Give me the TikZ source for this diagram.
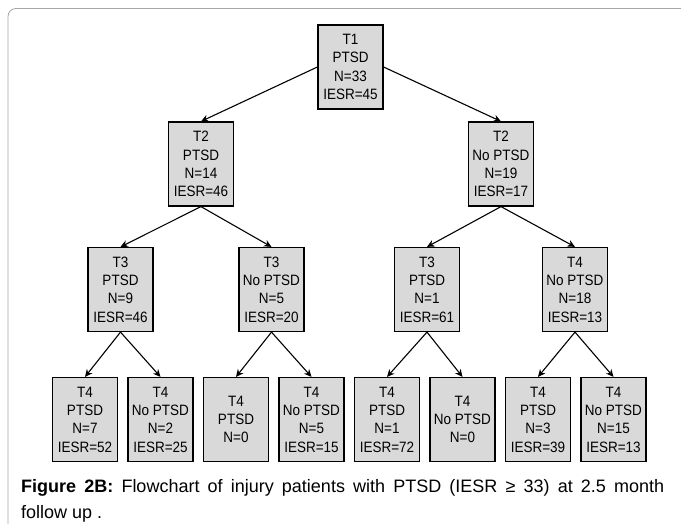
\documentclass[tikz,border=0pt]{standalone}
\usepackage{fontspec}
\setmainfont{Liberation Sans}
\newfontfamily\boxfont[FakeStretch=0.9]{Liberation Sans}
\usetikzlibrary{arrows.meta, positioning}

\begin{document}
\begin{tikzpicture}[x=1pt, y=-1pt]
    \tikzset{
        box/.style = {rectangle, draw=black, fill=black!15, line width=1.2pt, minimum width=65pt, minimum height=84pt, inner sep=0pt, align=center, font=\boxfont\fontsize{15}{18.3}\selectfont},
        line/.style = {draw=black, line width=1.1pt, -{Stealth[length=7.5pt, width=7pt]}},
        frame/.style = {draw=black!35, line width=0.8pt, rounded corners=8pt},
    }
    \useasboundingbox (0,0) rectangle (681,524);
    \path[frame] (681,8.5) -- (8,8.5) -- (8,524);

    \node[box](t1) at (350.5,67){T1\\PTSD\\N=33\\IESR=45};

    \node[box](t2a) at (201,164){T2\\PTSD\\N=14\\IESR=46};
    \node[box](t2b) at (501,164){T2\\No PTSD\\N=19\\IESR=17};

    \node[box](t3a) at (120.5,289.5){T3\\PTSD\\N=9\\IESR=46};
    \node[box](t3b) at (271.5,289.5){T3\\No PTSD\\N=5\\IESR=20};
    \node[box](t3c) at (427,289.5){T3\\PTSD\\N=1\\IESR=61};
    \node[box](t3d) at (575,289.5){T4\\No PTSD\\N=18\\IESR=13};

    \node[box](t4a) at (85,419.5){T4\\PTSD\\N=7\\IESR=52};
    \node[box](t4b)[right = 9.3pt of t4a]{T4\\No PTSD\\N=2\\IESR=25};
    \node[box](t4c)[right = 9.3pt of t4b]{T4\\PTSD\\N=0};
    \node[box](t4d)[right = 9.3pt of t4c]{T4\\No PTSD\\N=5\\IESR=15};
    \node[box](t4e)[right = 9.3pt of t4d]{T4\\PTSD\\N=1\\IESR=72};
    \node[box](t4f)[right = 9.3pt of t4e]{T4\\No PTSD\\N=0};
    \node[box](t4g)[right = 9.3pt of t4f]{T4\\PTSD\\N=3\\IESR=39};
    \node[box](t4h)[right = 9.3pt of t4g]{T4\\No PTSD\\N=15\\IESR=13};

    \node[anchor=north west, inner sep=0pt, text width=643pt, align=justify, font=\fontsize{18}{26}\selectfont](caption) at (21,479){\textbf{Figure 2B:} Flowchart of injury patients with PTSD (IESR ≥ 33) at 2.5 month\linebreak follow up .};

    \path [line] (t1.west) -- (t2a.north);
    \path [line] (t1.east) -- (t2b.north);

    \path [line] (t2a.south) -- (t3a.north);
    \path [line] (t2a.south) -- (t3b.north);
    \path [line] (t2b.south) -- (t3c.north);
    \path [line] (t2b.south) -- (t3d.north);

    \path [line] (t3a.south) -- (t4a.north);
    \path [line] (t3a.south) -- (t4b.north);
    \path [line] (t3b.south) -- (t4c.north);
    \path [line] (t3b.south) -- (t4d.north);
    \path [line] (t3c.south) -- (t4e.north);
    \path [line] (t3c.south) -- (t4f.north);
    \path [line] (t3d.south) -- (t4g.north);
    \path [line] (t3d.south) -- (t4h.north);

\end{tikzpicture}
\end{document}
